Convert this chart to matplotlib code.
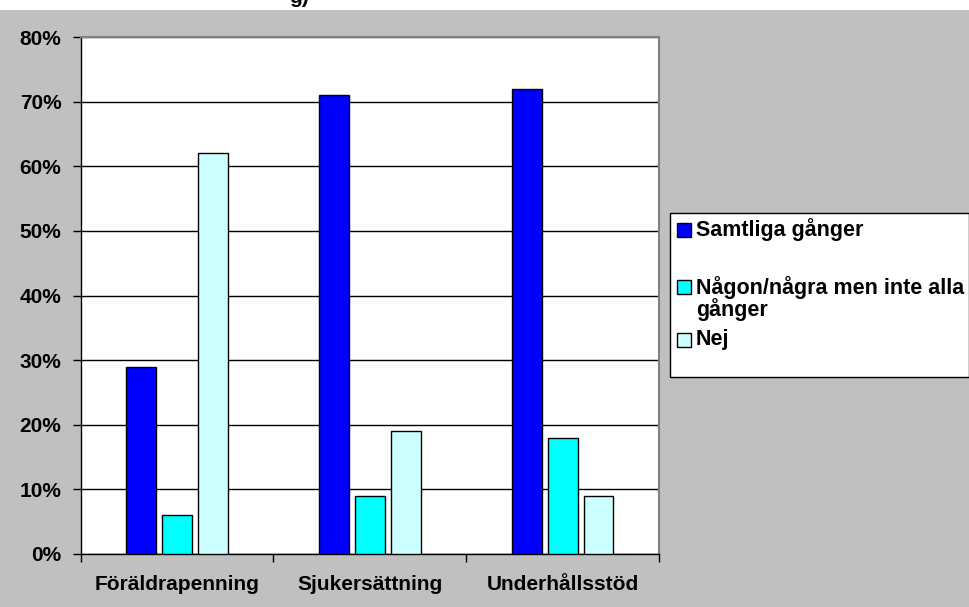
import matplotlib.pyplot as plt
from matplotlib.patches import Rectangle
import numpy as np

# kategorier och andelar (procent)
categories = ["Föräldrapenning", "Sjukersättning", "Underhållsstöd"]
series_names = ["Samtliga gånger", "Någon/några men inte alla\ngånger", "Nej"]
samtliga = [29, 71, 72]
nagon = [6, 9, 18]
nej = [62, 19, 9]
yticks = [0, 10, 20, 30, 40, 50, 60, 70, 80]
ytick_labels = ["0%", "10%", "20%", "30%", "40%", "50%", "60%", "70%", "80%"]

colors = ["#0000FF", "#00FFFF", "#CCFFFF"]
gray = "#C0C0C0"

plt.rcParams["font.family"] = ["Liberation Sans", "DejaVu Sans"]
plt.rcParams["font.weight"] = "bold"

W, H = 970, 607
fig = plt.figure(figsize=(W / 100, H / 100), dpi=100)
fig.patch.set_facecolor("white")


def fx(px):
    return px / W


def fy(py):
    return 1 - py / H


# grå bakgrund under titelraden
bg = fig.add_axes([0, 0, 1, fy(9.5)], zorder=0)
bg.set_facecolor(gray)
bg.axis("off")
bg.add_patch(Rectangle((0, 0), 1, 1, transform=bg.transAxes, facecolor=gray,
                       edgecolor="none"))

# avklippt titel överst
fig.text(fx(309), fy(3), "g)", ha="right", va="baseline", fontsize=15,
         fontweight="bold")

ax = fig.add_axes([fx(80.7), fy(553.7), fx(659) - fx(80.7), fy(37.3) - fy(553.7)],
                  zorder=2)
ax.set_facecolor("white")

x = np.arange(len(categories))
step = 0.186
width = 0.155
for i, vals in enumerate([samtliga, nagon, nej]):
    ax.bar(x + (i - 1) * step, vals, width, color=colors[i], edgecolor="black",
           linewidth=1, zorder=3)

ax.set_xlim(-0.5, 2.5)
ax.set_ylim(0, 80)
ax.set_yticks(yticks)
ax.set_yticklabels(ytick_labels, fontsize=15, fontweight="bold")
ax.yaxis.grid(True, color="black", linewidth=1)
ax.set_axisbelow(True)

ax.set_xticks(x)
ax.set_xticklabels(categories, fontsize=15, fontweight="bold")
ax.set_xticks([-0.5, 0.5, 1.5, 2.5], minor=True)
ax.tick_params(axis="x", which="major", length=0, pad=15)
ax.tick_params(axis="x", which="minor", length=6, width=1, direction="out")
ax.tick_params(axis="y", length=6, width=1, direction="out", pad=8)

for side in ["top", "right"]:
    ax.spines[side].set_color("#808080")
    ax.spines[side].set_linewidth(1.5)
for side in ["left", "bottom"]:
    ax.spines[side].set_color("black")
    ax.spines[side].set_linewidth(1)

# förklaring till höger
bg.add_patch(Rectangle((fx(670), fy(377) / fy(9.5)), fx(969) - fx(670),
                       (fy(213) - fy(377)) / fy(9.5), transform=bg.transAxes,
                       facecolor="white", edgecolor="black", linewidth=1, zorder=1))
entry_y = [230, 287, 340]
for name, c, py in zip(series_names, colors, entry_y):
    fig.patches.append(Rectangle((fx(677), fy(py + 7)), fx(14), 14 / H,
                                 transform=fig.transFigure, facecolor=c,
                                 edgecolor="black", linewidth=1, zorder=2))
    if "\n" in name:
        fig.text(fx(696), fy(py - 11), name, ha="left", va="top", fontsize=15.5,
                 fontweight="bold", linespacing=0.95, zorder=3)
    else:
        fig.text(fx(696), fy(py), name, ha="left", va="center", fontsize=15.5,
                 fontweight="bold", zorder=3)

fig.savefig("out.png", dpi=100)
